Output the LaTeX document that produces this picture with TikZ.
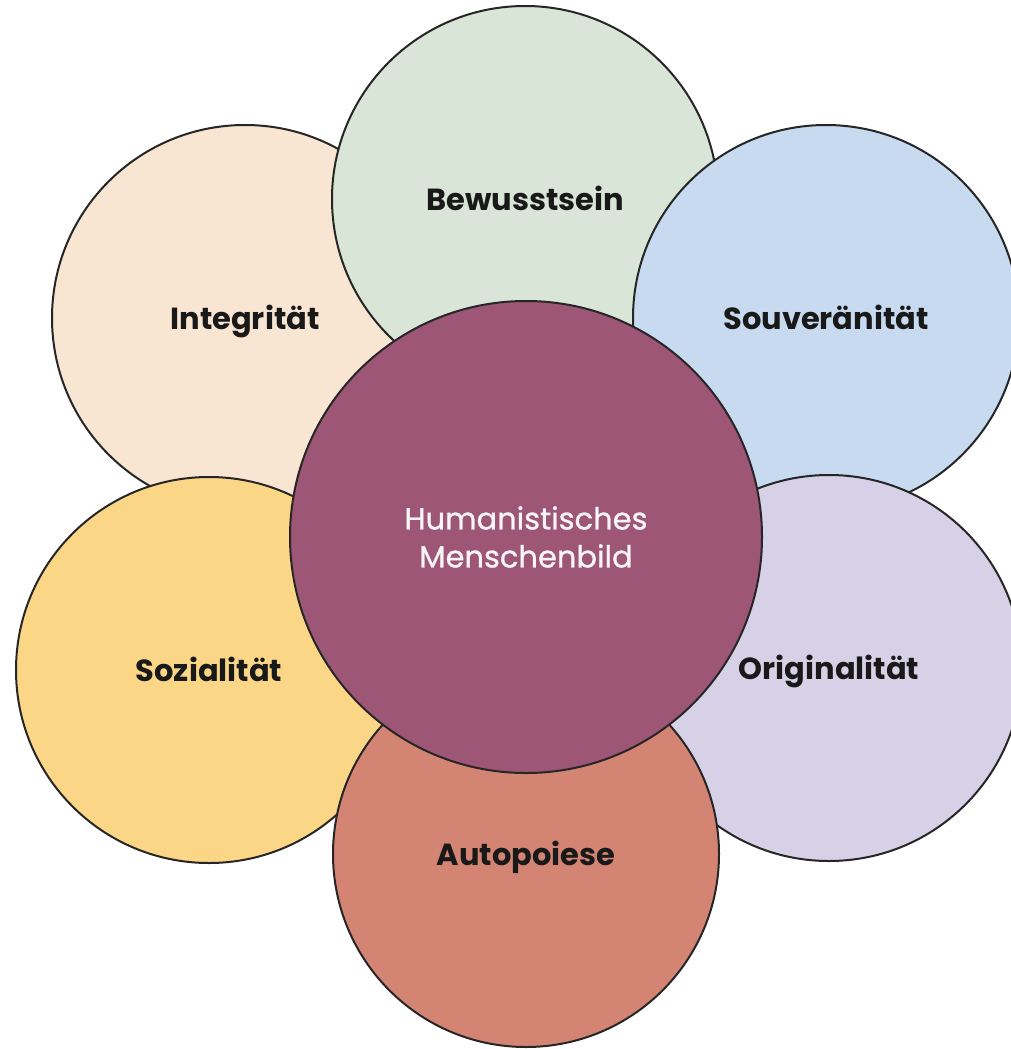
\documentclass[tikz,border=0pt]{standalone}
\usepackage{fontspec}
\setmainfont{Poppins}
\newfontfamily\hubfont[FakeBold=0.9]{Poppins}
\begin{document}
\begin{tikzpicture}[x=1pt,y=-1pt,
  petal/.style={circle, draw=black!85, line width=2pt, inner sep=0pt,
    minimum size=386pt, text=black!90, text height=26pt, text depth=4pt,
    font=\fontsize{30.5}{34}\selectfont\bfseries},
  hub/.style={circle, draw=black!85, line width=2pt, inner sep=0pt,
    minimum size=472pt, fill=hubcol, text=white!94!hubcol, align=center,
    font=\hubfont\fontsize{30.5}{38}\selectfont}]
\definecolor{intcol}{HTML}{F8E5D2}
\definecolor{bewcol}{HTML}{D9E5D6}
\definecolor{soucol}{HTML}{C8DAF0}
\definecolor{oricol}{HTML}{D6D1E6}
\definecolor{sozcol}{HTML}{FCD687}
\definecolor{autcol}{HTML}{D48473}
\definecolor{hubcol}{HTML}{9D5676}
\useasboundingbox (0,0) rectangle (1010,1049);
% outer circles, back to front
\node[petal, fill=intcol] (int) at (245,318) {Integrität};
\node[petal, fill=bewcol] (bew) at (525,199) {Bewusstsein};
\node[petal, fill=soucol] (sou) at (826,318) {Souveränität};
\node[petal, fill=oricol] (ori) at (829,668) {Originalität};
\node[petal, fill=sozcol] (soz) at (209,670) {Sozialität};
\node[petal, fill=autcol] (aut) at (526,854) {Autopoiese};
% central circle
\node[hub] (hub) at (526,537) {Humanistisches\\Menschenbild};
\end{tikzpicture}
\end{document}
